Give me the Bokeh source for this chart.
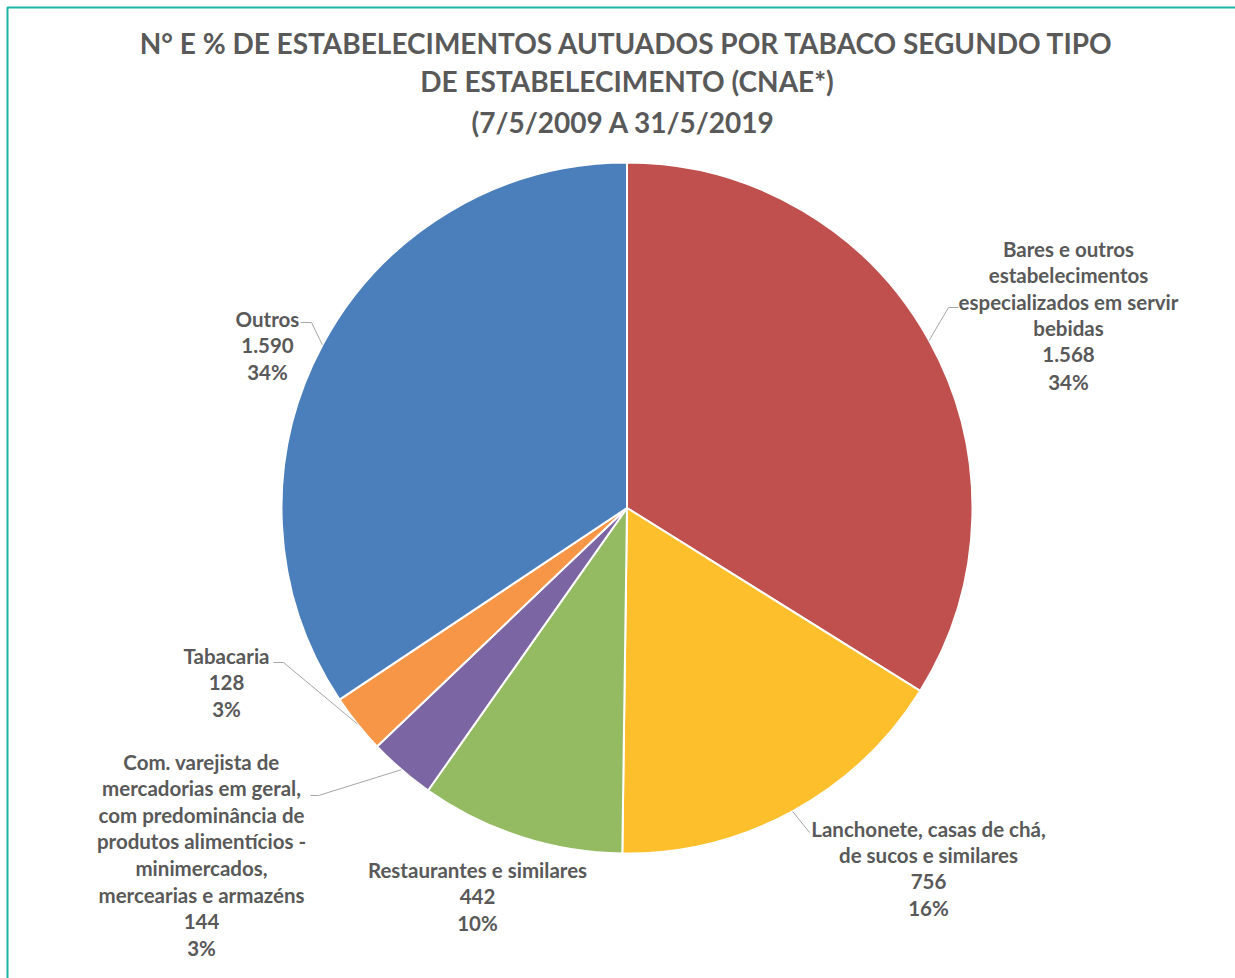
import math
from bokeh.plotting import figure
from bokeh.models import Range1d
from bokeh.core.properties import value
from bokeh.embed import file_html
from bokeh.resources import INLINE

# ---------------- data ----------------
categories = [
    "Bares e outros\nestabelecimentos\nespecializados em servir\nbebidas",
    "Lanchonete, casas de chá,\nde sucos e similares",
    "Restaurantes e similares",
    "Com. varejista de\nmercadorias em geral,\ncom predominância de\nprodutos alimentícios -\nminimercados,\nmercearias e armazéns",
    "Tabacaria",
    "Outros",
]
counts = [1568, 756, 442, 144, 128, 1590]
colors = ["#C0504D", "#FDBF2B", "#94BB62", "#7B65A3", "#F79646", "#4A7FBC"]
title_lines = [
    "N° E % DE ESTABELECIMENTOS AUTUADOS POR TABACO SEGUNDO TIPO",
    "DE ESTABELECIMENTO (CNAE*)",
    "(7/5/2009  A 31/5/2019",
]

# ---------------- layout ----------------
W, H = 1235, 978
OFF = 0
FONT = "Lato"
TXT = "#595959"

def X(ix):
    return ix - OFF

def Y(iy):
    return H + OFF - iy

CX, CY, R = X(626.5), Y(507.5), 345.5
# label anchor (centre x, first line y) in page pixels
label_pos = [(1068, 248), (928, 828), (477, 869), (201, 761), (226, 655), (267, 318)]
# leader path points after the slice edge (page pixels); None -> no leader
leader_pts = [
    [(948, 307), (958, 307)],
    [(809, 832)],
    None,
    [(318, 795), (310, 795)],
    [(283, 662), (273, 662)],
    [(311, 322), (300, 322)],
]
LINE_H = 26.6

p = figure(width=W, height=H, output_backend="svg", toolbar_location=None,
           x_range=Range1d(0, W), y_range=Range1d(0, H), min_border=0)
p.axis.visible = False
p.grid.visible = False
p.outline_line_color = None
p.background_fill_color = "white"
p.border_fill_color = "white"

# teal border (left & top)
p.line([X(7), X(7), W], [0, Y(7), Y(7)], line_color="#1DB5A6", line_width=2)

total = sum(counts)
cum = 0.0
starts, ends, mids = [], [], []
for c in counts:
    a0 = cum / total * 2 * math.pi
    cum += c
    a1 = cum / total * 2 * math.pi
    starts.append(math.pi / 2 - a0)
    ends.append(math.pi / 2 - a1)
    mids.append((a0 + a1) / 2)

p.wedge(x=[CX] * len(counts), y=[CY] * len(counts), radius=R,
        start_angle=starts, end_angle=ends, direction="clock",
        fill_color=colors, line_color="white", line_width=2)

# leader lines
for i, pts in enumerate(leader_pts):
    if pts is None:
        continue
    m = mids[i]
    ex = CX + R * math.sin(m)
    ey = CY + R * math.cos(m)
    xs = [ex] + [X(a) for a, b in pts]
    ys = [ey] + [Y(b) for a, b in pts]
    p.line(xs, ys, line_color="#A6A6A6", line_width=1)

# labels
for i, cat in enumerate(categories):
    num = f"{counts[i]:,}".replace(",", ".")
    pct = f"{round(counts[i] / total * 100)}%"
    lines = cat.split("\n") + [num, pct]
    lx, ly = label_pos[i]
    p.text(x=[X(lx)] * len(lines), y=[Y(ly + k * LINE_H) for k in range(len(lines))],
           text=lines, text_align="center", text_baseline="middle",
           text_font=value(FONT), text_font_style="bold", text_font_size="20.5px",
           text_color=TXT)

# title
title_y = [42, 80, 121]
p.text(x=[X(626.5)] * 3, y=[Y(v) for v in title_y], text=title_lines,
       text_align="center", text_baseline="middle", text_font=value(FONT),
       text_font_style="bold", text_font_size="28px", text_color=TXT)

open("out.html", "w").write(file_html(p, INLINE))
